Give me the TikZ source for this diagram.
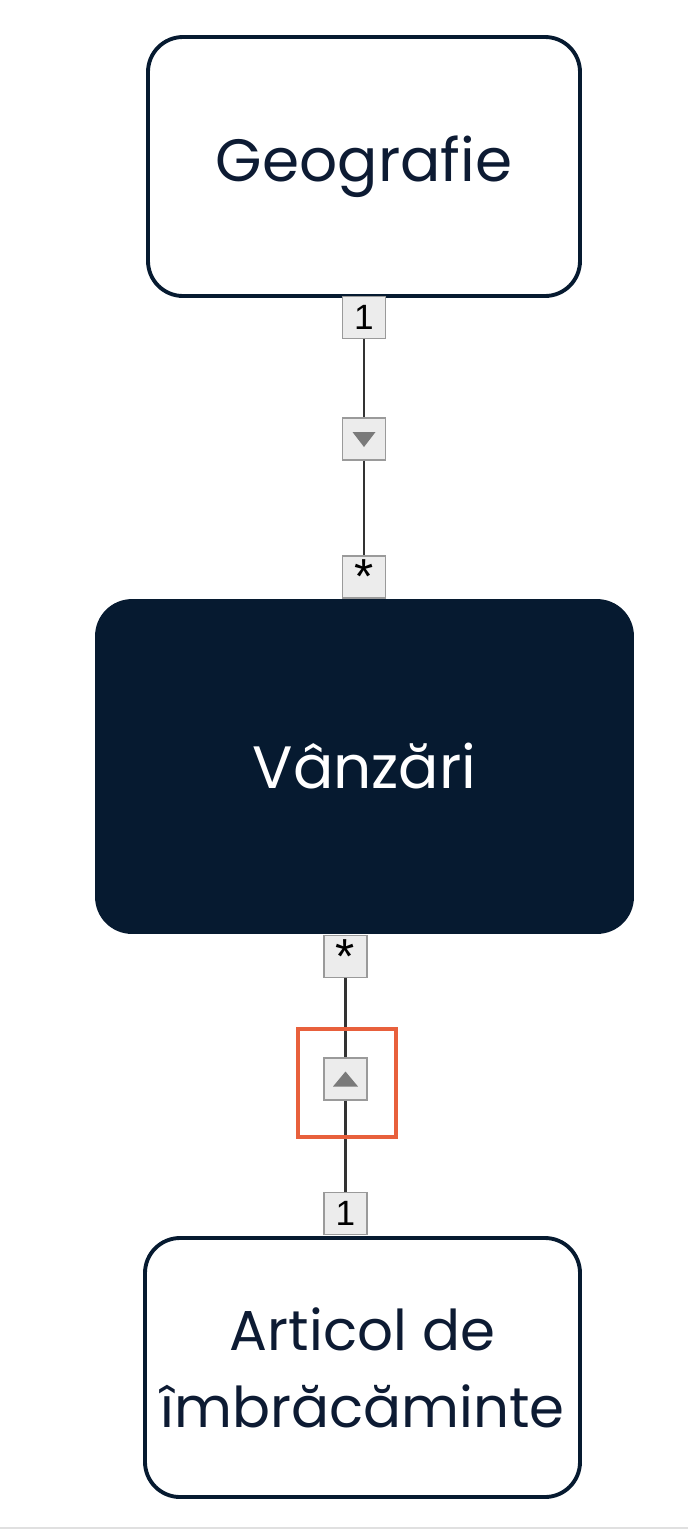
\documentclass[tikz,border=0pt]{standalone}
\usepackage{fontspec}
\setmainfont{Poppins}
\newfontfamily\labfont{Liberation Sans}
\usepackage{xcolor}
\definecolor{navy}{HTML}{061A30}
\definecolor{inknavy}{HTML}{0D1B33}
\definecolor{labfill}{HTML}{ECECEC}
\definecolor{labedge}{HTML}{9A9A9A}
\definecolor{trigray}{HTML}{7A7A7A}
\definecolor{hilite}{HTML}{E8603C}

\tikzset{
	entity/.style={draw=navy, line width=2.2pt, rounded corners=0.7cm, fill=white,
		text=inknavy, align=center, inner sep=0pt,
		font=\fontsize{34}{44}\selectfont},
	entitydark/.style={entity, fill=navy, text=white},
	lab/.style={draw=labedge, fill=labfill, line width=0.8pt, minimum width=0.86cm,
		minimum height=0.84cm, inner sep=0pt, font=\labfont\fontsize{20}{20}\selectfont},
	starlab/.style={lab, font=\labfont\fontsize{28}{28}\selectfont},
	conn/.style={draw=black!80, line width=1.4pt},
	trimark/.style={fill=trigray}
}

\begin{document}
\begin{tikzpicture}
		\useasboundingbox (0,0) rectangle (13.76,-30.64);
		\draw[black!12, line width=0.6pt] (0,-30.56)--(13.76,-30.56);
		% entities
		\node[entity, minimum width=8.64cm, minimum height=5.18cm] (geo) at (7.28,-3.33) {Geografie};
		\node[entitydark, minimum width=10.7cm, minimum height=6.62cm] (sales) at (7.29,-15.33) {Vânzări};
		\node[entity, minimum width=8.7cm, minimum height=5.18cm, font=\fontsize{32}{44}\selectfont] (art) at (7.25,-27.35) {Articol de\\îmbrăcăminte};
		% upper relation
		\node[lab] (one1) at (7.28,-6.35) {1};
		\node[lab] (tri1) at (7.28,-8.78) {};
		\node[starlab] (star1) at (7.28,-11.54) {\raisebox{-1.1ex}{*}};
		\draw[conn] (one1)--(tri1);
		\draw[conn] (tri1)--(star1);
		\fill[trimark] ([shift={(-0.23,0.14)}]tri1.center)--([shift={(0.23,0.14)}]tri1.center)--([shift={(0,-0.16)}]tri1.center)--cycle;
		% lower relation
		\node[starlab] (star2) at (6.91,-19.13) {\raisebox{-1.1ex}{*}};
		\node[lab] (tri2) at (6.91,-21.58) {};
		\node[lab] (one2) at (6.91,-24.27) {1};
		\draw[conn] (star2)--(tri2);
		\draw[conn] (tri2)--(one2);
		\fill[trimark] ([shift={(-0.25,-0.15)}]tri2.center)--([shift={(0.25,-0.15)}]tri2.center)--([shift={(0,0.15)}]tri2.center)--cycle;
		\node[draw=hilite, line width=1.8pt, minimum width=1.96cm, minimum height=2.16cm] (hl) at (6.94,-21.66) {};
		\end{tikzpicture}
\end{document}
